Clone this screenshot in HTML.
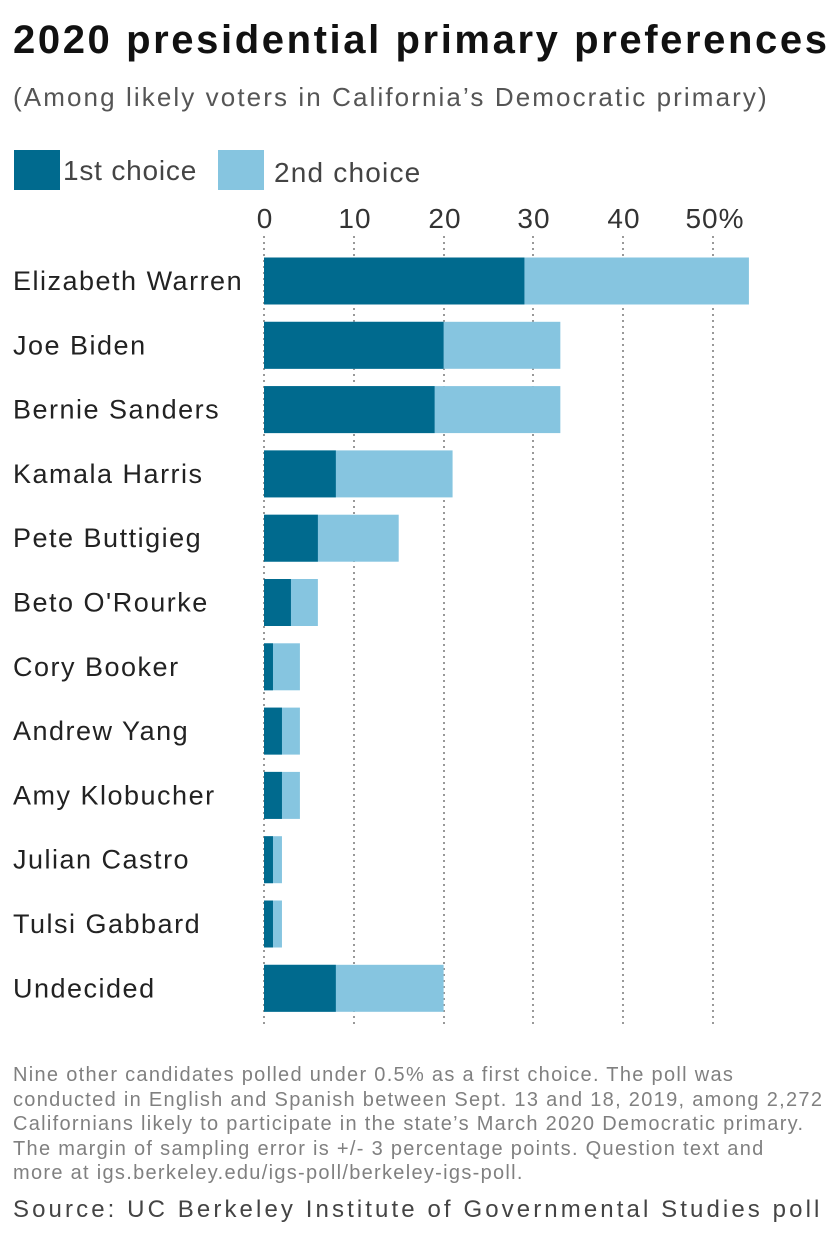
<!DOCTYPE html>
<html><head><meta charset="utf-8"><style>
body{margin:0;width:840px;height:1248px;background:#fff;font-family:"Liberation Sans",sans-serif;color:#222;position:relative;overflow:hidden}
.a{position:absolute;white-space:nowrap}
</style></head><body>
<div class="a" style="left:13px;top:18px;font-size:40px;font-weight:bold;color:#111;letter-spacing:2.6px">2020 presidential primary preferences</div>
<div class="a" style="left:13px;top:82px;font-size:26px;color:#555;letter-spacing:2.1px">(Among likely voters in California’s Democratic primary)</div>
<div class="a" style="left:14px;top:150px;width:46px;height:40px;background:#006a8e"></div>
<div class="a" style="left:63px;top:155px;font-size:28px;color:#444;letter-spacing:0.8px">1st choice</div>
<div class="a" style="left:218px;top:150px;width:46px;height:40px;background:#86c5e0"></div>
<div class="a" style="left:274px;top:157px;font-size:28px;color:#444;letter-spacing:1.2px">2nd choice</div>
<svg class="a" style="left:0;top:0" width="840" height="1248">
<g font-family="Liberation Sans" font-size="28" fill="#333" text-anchor="middle" letter-spacing="1">
<text x="265" y="228">0</text><text x="355" y="228">10</text><text x="445" y="228">20</text><text x="534" y="228">30</text><text x="624" y="228">40</text><text x="715" y="228">50%</text>
</g>
<g stroke="#999" stroke-width="2" stroke-dasharray="2,4">
<line x1="264" y1="236" x2="264" y2="1026"/><line x1="354" y1="236" x2="354" y2="1026"/><line x1="444" y1="236" x2="444" y2="1026"/><line x1="533" y1="236" x2="533" y2="1026"/><line x1="623" y1="236" x2="623" y2="1026"/><line x1="713" y1="236" x2="713" y2="1026"/>
</g>
<g id="bars"></g>
</svg>
<script>
var d=[["Elizabeth Warren",29,54],["Joe Biden",20,33],["Bernie Sanders",19,33],["Kamala Harris",8,21],["Pete Buttigieg",6,15],["Beto O'Rourke",3,6],["Cory Booker",1,4],["Andrew Yang",2,4],["Amy Klobucher",2,4],["Julian Castro",1,2],["Tulsi Gabbard",1,2],["Undecided",8,20]];
var g=document.getElementById('bars'),s='',k=8.98;
d.forEach(function(r,i){var c=281+i*64.3,y=c-23.5;
s+='<rect x="264" y="'+y+'" width="'+(r[2]*k)+'" height="47" fill="#86c5e0"/>';
s+='<rect x="264" y="'+y+'" width="'+(r[1]*k)+'" height="47" fill="#006a8e"/>';
s+='<text x="13" y="'+(c+9)+'" font-family="Liberation Sans" font-size="27" fill="#222" letter-spacing="1.5">'+r[0]+'</text>';});
g.innerHTML=s;
</script>
<div class="a" style="left:13px;top:1063px;font-size:20px;line-height:24.5px;color:#808080;letter-spacing:1.3px">Nine other candidates polled under 0.5% as a first choice. The poll was<br>conducted in English and Spanish between Sept. 13 and 18, 2019, among 2,272<br>Californians likely to participate in the state’s March 2020 Democratic primary.<br>The margin of sampling error is +/- 3 percentage points. Question text and<br>more at igs.berkeley.edu/igs-poll/berkeley-igs-poll.</div>
<div class="a" style="left:13px;top:1196px;font-size:24px;color:#444;letter-spacing:3.1px">Source: UC Berkeley Institute of Governmental Studies poll</div>
</body></html>
